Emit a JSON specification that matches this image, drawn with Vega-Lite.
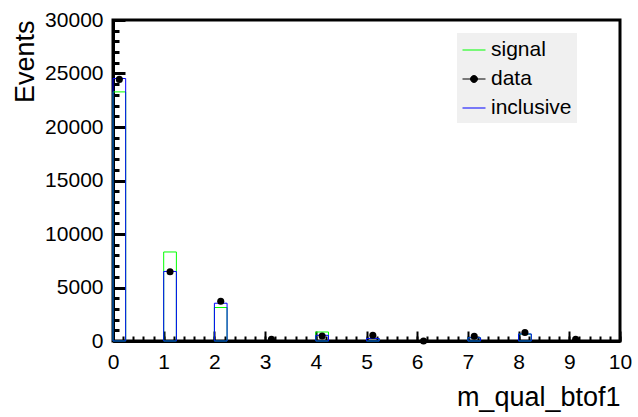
{
  "$schema": "https://vega.github.io/schema/vega-lite/v6.json",
  "width": 507,
  "height": 321,
  "autosize": {"type": "none"},
  "padding": {"left": 113, "top": 20, "right": 18, "bottom": 76},
  "background": "white",
  "config": {
    "view": {"stroke": "black", "strokeWidth": 3},
    "font": "Liberation Sans",
    "axis": {
      "grid": false,
      "domainColor": "black",
      "domainWidth": 3,
      "tickColor": "black",
      "labelColor": "black",
      "labelFontSize": 21,
      "labelOverlap": false,
      "labelFlush": false,
      "titleColor": "black",
      "titleFontSize": 27,
      "titleFontWeight": "normal"
    }
  },
  "datasets": {
    "hist": [
      {"series": "signal", "lo": 0, "hi": 0.25, "value": 23280},
      {"series": "signal", "lo": 1, "hi": 1.25, "value": 8320},
      {"series": "signal", "lo": 2, "hi": 2.25, "value": 3130},
      {"series": "signal", "lo": 4, "hi": 4.25, "value": 840},
      {"series": "signal", "lo": 5, "hi": 5.25, "value": 230},
      {"series": "signal", "lo": 7, "hi": 7.25, "value": 310},
      {"series": "signal", "lo": 8, "hi": 8.25, "value": 640},
      {"series": "inclusive", "lo": 0, "hi": 0.25, "value": 24530},
      {"series": "inclusive", "lo": 1, "hi": 1.25, "value": 6500},
      {"series": "inclusive", "lo": 2, "hi": 2.25, "value": 3530},
      {"series": "inclusive", "lo": 4, "hi": 4.25, "value": 530},
      {"series": "inclusive", "lo": 5, "hi": 5.25, "value": 240},
      {"series": "inclusive", "lo": 7, "hi": 7.25, "value": 300},
      {"series": "inclusive", "lo": 8, "hi": 8.25, "value": 660}
    ],
    "points": [
      {"series": "data", "x": 0.125, "value": 24450},
      {"series": "data", "x": 1.125, "value": 6470},
      {"series": "data", "x": 2.125, "value": 3720},
      {"series": "data", "x": 3.125, "value": 150},
      {"series": "data", "x": 4.125, "value": 470},
      {"series": "data", "x": 5.125, "value": 530},
      {"series": "data", "x": 6.125, "value": 0},
      {"series": "data", "x": 7.125, "value": 440},
      {"series": "data", "x": 8.125, "value": 790},
      {"series": "data", "x": 9.125, "value": 150}
    ]
  },
  "resolve": {"axis": {"x": "independent", "y": "independent"}},
  "layer": [
    {
      "data": {"name": "hist"},
      "mark": {"type": "bar", "filled": false, "strokeWidth": 1},
      "encoding": {
        "x": {
          "field": "lo",
          "type": "quantitative",
          "scale": {"domain": [0, 10], "nice": false, "zero": false},
          "axis": {
            "orient": "bottom",
            "values": [0, 1, 2, 3, 4, 5, 6, 7, 8, 9, 10],
            "format": "d",
            "tickSize": -10,
            "tickWidth": 2,
            "labelPadding": 20,
            "title": "m_qual_btof1",
            "titleAlign": "right",
            "titleBaseline": "alphabetic",
            "titleX": 507,
            "titleY": 64
          }
        },
        "x2": {"field": "hi"},
        "y": {
          "field": "value",
          "type": "quantitative",
          "scale": {"domain": [0, 30000], "nice": false},
          "axis": {
            "orient": "left",
            "values": [0, 5000, 10000, 15000, 20000, 25000, 30000],
            "format": "d",
            "tickSize": -12,
            "tickWidth": 3,
            "labelPadding": 22,
            "title": "Events",
            "titleAngle": 270,
            "titleAlign": "right",
            "titleBaseline": "alphabetic",
            "titleX": -80,
            "titleY": 0
          }
        },
        "y2": {"datum": 0},
        "color": {
          "field": "series",
          "type": "nominal",
          "scale": {"domain": ["signal", "data", "inclusive"], "range": ["#00ff00", "#000000", "#0000ff"]},
          "legend": {
            "orient": "none",
            "legendX": 344,
            "legendY": 13,
            "title": null,
            "fillColor": "#f0f0f0",
            "padding": 5,
            "rowPadding": 7,
            "labelFontSize": 21,
            "labelColor": "black",
            "labelOffset": 5,
            "symbolType": "stroke",
            "symbolSize": 529,
            "symbolStrokeWidth": 1,
            "encoding": {
              "symbols": {
                "shape": {"value": {"expr": "datum.value === 'data' ? 'M-1,0H1M0.3,0A0.3,0.3 0 1 1 -0.3,0A0.3,0.3 0 1 1 0.3,0Z' : 'stroke'"}},
                "fill": {"value": {"expr": "datum.value === 'data' ? 'black' : 'transparent'"}},
                "stroke": {"value": {"expr": "scale('color', datum.value)"}},
                "opacity": {"value": 1}
              }
            }
          }
        }
      }
    },
    {
      "mark": {"type": "rule", "strokeWidth": 1},
      "encoding": {
        "x": {
          "datum": 0,
          "type": "quantitative",
          "axis": {
            "orient": "bottom",
            "values": [0, 0.2, 0.4, 0.6, 0.8, 1, 1.2, 1.4, 1.6, 1.8, 2, 2.2, 2.4, 2.6, 2.8, 3, 3.2, 3.4, 3.6, 3.8, 4, 4.2, 4.4, 4.6, 4.8, 5, 5.2, 5.4, 5.6, 5.8, 6, 6.2, 6.4, 6.6, 6.8, 7, 7.2, 7.4, 7.6, 7.8, 8, 8.2, 8.4, 8.6, 8.8, 9, 9.2, 9.4, 9.6, 9.8, 10],
            "labels": false,
            "domain": false,
            "tickSize": -5,
            "tickWidth": 2,
            "title": null
          }
        },
        "x2": {"datum": 10},
        "y": {
          "datum": 0,
          "type": "quantitative",
          "axis": {
            "orient": "left",
            "values": [0, 1000, 2000, 3000, 4000, 5000, 6000, 7000, 8000, 9000, 10000, 11000, 12000, 13000, 14000, 15000, 16000, 17000, 18000, 19000, 20000, 21000, 22000, 23000, 24000, 25000, 26000, 27000, 28000, 29000, 30000],
            "labels": false,
            "domain": false,
            "tickSize": -6,
            "tickWidth": 3,
            "title": null
          }
        },
        "color": {"datum": "inclusive"}
      }
    },
    {
      "data": {"name": "points"},
      "mark": {"type": "point", "filled": true, "shape": "circle", "size": 50, "opacity": 1},
      "encoding": {
        "x": {"field": "x", "type": "quantitative", "axis": null},
        "y": {"field": "value", "type": "quantitative", "axis": null},
        "color": {"field": "series", "type": "nominal"}
      }
    }
  ]
}
